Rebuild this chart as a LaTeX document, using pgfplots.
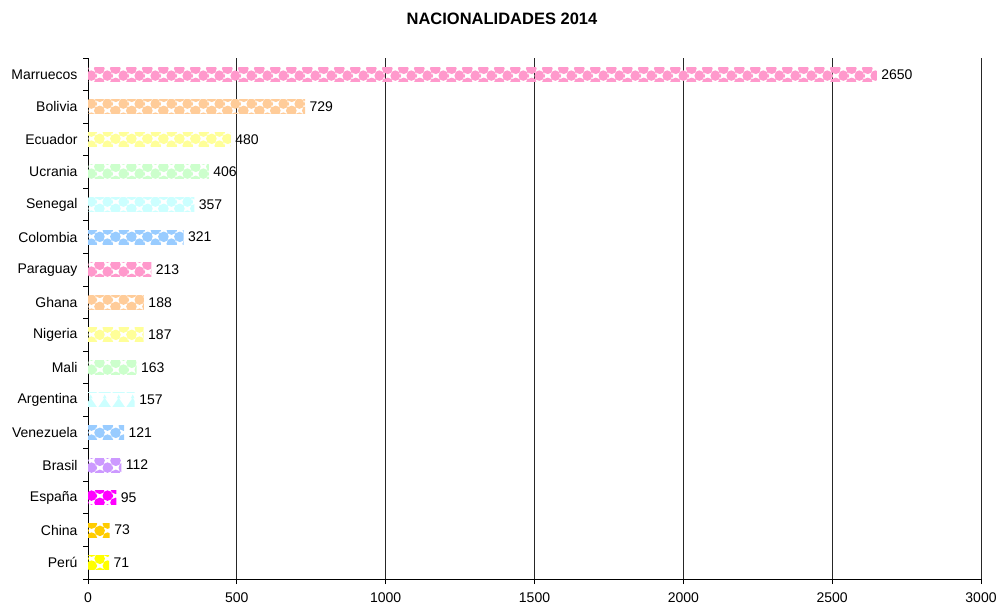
\documentclass[border=0pt]{standalone}
\usepackage{pgfplots}
\pgfplotsset{compat=1.18}
\usepackage{fontspec}
\setmainfont{Liberation Sans}
\usetikzlibrary{patterns}
\definecolor{cPink}{HTML}{FF99CC}
\definecolor{cPeach}{HTML}{FFCC99}
\definecolor{cLYellow}{HTML}{FFFF99}
\definecolor{cLGreen}{HTML}{CCFFCC}
\definecolor{cLCyan}{HTML}{CCFFFF}
\definecolor{cLBlue}{HTML}{99CCFF}
\definecolor{cLav}{HTML}{CC99FF}
\definecolor{cMag}{HTML}{FF00FF}
\definecolor{cGold}{HTML}{FFCC00}
\definecolor{cYellow}{HTML}{FFFF00}
\newcommand\pc[2]{\pgfpathcircle{\pgfpoint{#1bp}{#2bp}}{5.2bp}\pgfusepath{fill}}
\pgfdeclarepatternformonly{nac}{\pgfpointorigin}{\pgfqpoint{16bp}{14bp}}{\pgfqpoint{16bp}{14bp}}{%
  \pgfpathrectangle{\pgfpoint{0bp}{0bp}}{\pgfpoint{8bp}{7bp}}\pgfusepath{fill}%
  \pgfpathrectangle{\pgfpoint{8bp}{7bp}}{\pgfpoint{8bp}{7bp}}\pgfusepath{fill}%
  \pc{4}{3.5}\pc{20}{3.5}\pc{4}{17.5}\pc{20}{17.5}%
  \pc{12}{10.5}\pc{-4}{10.5}\pc{12}{-3.5}\pc{-4}{-3.5}%
}
\pgfdeclarepatternformonly{tri}{\pgfpointorigin}{\pgfqpoint{14bp}{14bp}}{\pgfqpoint{14bp}{14bp}}{%
  \pgfpathmoveto{\pgfpoint{0.5bp}{1.2bp}}\pgfpathlineto{\pgfpoint{13.5bp}{1.2bp}}\pgfpathlineto{\pgfpoint{7bp}{10.5bp}}\pgfpathclose\pgfusepath{fill}%
  \pgfpathmoveto{\pgfpoint{5bp}{10bp}}\pgfpathlineto{\pgfpoint{9bp}{10bp}}\pgfpathlineto{\pgfpoint{7bp}{14bp}}\pgfpathclose\pgfusepath{fill}%
}
\begin{document}
\begin{tikzpicture}
\useasboundingbox (0,0) rectangle (998bp,604bp);
\node[font=\fontsize{16.5bp}{19bp}\selectfont\bfseries] at (502bp,585bp) {NACIONALIDADES 2014};
\begin{axis}[
  at={(88bp,25bp)}, anchor=south west,
  scale only axis, width=893bp, height=521bp,
  xmin=0, xmax=3000, ymin=-0.5, ymax=15.5,
  axis x line*=bottom, axis y line*=left,
  axis line style={black, line width=0.8bp},
  xtick={0,500,...,3000},
  ytick={0,...,15},
  yticklabels={Perú,China,España,Brasil,Venezuela,Argentina,Mali,Nigeria,Ghana,Paraguay,Colombia,Senegal,Ucrania,Ecuador,Bolivia,Marruecos},
  minor ytick={-0.5,0.5,...,15.5},
  major y tick style={draw=none},
  minor y tick style={black, line width=0.8bp},
  major x tick style={black, line width=0.8bp},
  tick align=outside,
  major tick length=5bp, minor tick length=5bp,
  xmajorgrids,
  major x grid style={black!85, line width=0.8bp},
  tick label style={font=\fontsize{14bp}{16bp}\selectfont},
  xticklabel style={yshift=-5bp},
  yticklabel style={xshift=-2bp},
  /pgf/number format/assume math mode=true,
  /pgf/number format/1000 sep={},
  xbar, bar width=14bp,
  nodes near coords,
  nodes near coords style={font=\fontsize{14bp}{16bp}\selectfont, anchor=west, xshift=1bp},
  every axis plot/.append style={draw=none, bar shift=0pt},
]
\addplot[pattern=nac, pattern color=cPink] coordinates {(2650,15)};
\addplot[pattern=nac, pattern color=cPeach] coordinates {(729,14)};
\addplot[pattern=nac, pattern color=cLYellow] coordinates {(480,13)};
\addplot[pattern=nac, pattern color=cLGreen] coordinates {(406,12)};
\addplot[pattern=nac, pattern color=cLCyan] coordinates {(357,11)};
\addplot[pattern=nac, pattern color=cLBlue] coordinates {(321,10)};
\addplot[pattern=nac, pattern color=cPink] coordinates {(213,9)};
\addplot[pattern=nac, pattern color=cPeach] coordinates {(188,8)};
\addplot[pattern=nac, pattern color=cLYellow] coordinates {(187,7)};
\addplot[pattern=nac, pattern color=cLGreen] coordinates {(163,6)};
\addplot[pattern=tri, pattern color=cLCyan] coordinates {(157,5)};
\addplot[pattern=nac, pattern color=cLBlue] coordinates {(121,4)};
\addplot[pattern=nac, pattern color=cLav] coordinates {(112,3)};
\addplot[pattern=nac, pattern color=cMag] coordinates {(95,2)};
\addplot[pattern=nac, pattern color=cGold] coordinates {(73,1)};
\addplot[pattern=nac, pattern color=cYellow] coordinates {(71,0)};
\end{axis}
\end{tikzpicture}
\end{document}
